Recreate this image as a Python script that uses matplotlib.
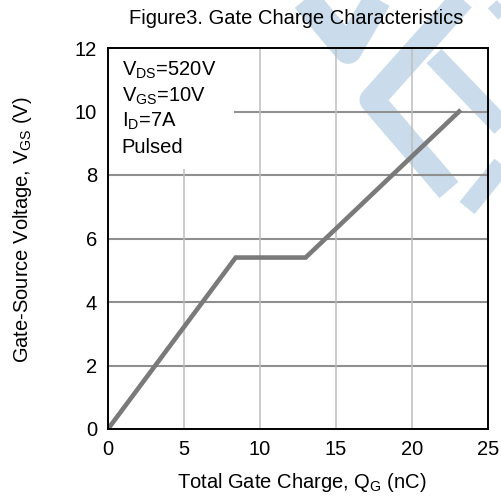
import matplotlib.pyplot as plt
from matplotlib.lines import Line2D
from matplotlib.patches import Rectangle

plt.rcParams["font.family"] = ["Liberation Sans", "DejaVu Sans"]
plt.rcParams["mathtext.fontset"] = "custom"
plt.rcParams["mathtext.rm"] = "Liberation Sans"
plt.rcParams["mathtext.it"] = "Liberation Sans"

# ---------- data ----------
qg_nc = [0.0, 8.4, 13.0, 23.1]
vgs_v = [0.0, 5.4, 5.4, 10.0]

x_ticks = [0, 5, 10, 15, 20, 25]
y_ticks = [0, 2, 4, 6, 8, 10, 12]
conditions = ["V$_{\\mathrm{DS}}$=520V", "V$_{\\mathrm{GS}}$=10V", "I$_{\\mathrm{D}}$=7A", "Pulsed"]

W, H = 502, 499
FS = 14.5
fig = plt.figure(figsize=(W / 100, H / 100), dpi=100)

# ---------- faint watermark logo in the top-right corner ----------
wm_color = "#cadcec"
strokes = [
    ([302, 348, 380], [-5, 50, -5], 20),
    ([466, 372, 449], [-5, 100, 190], 18),
    ([434, 512], [56, 137], 15),
    ([514, 467], [150, 208], 14),
    ([514, 493], [-5, 14], 11),
]
for xs, ys, lw in strokes:
    fig.add_artist(Line2D([x / W for x in xs], [1 - y / H for y in ys],
                          transform=fig.transFigure, color=wm_color, lw=lw,
                          solid_joinstyle="round", solid_capstyle="butt", zorder=-1))

ax = fig.add_axes([108 / W, 1 - 429 / H, 380 / W, 381 / H])
ax.set_facecolor("none")

ax.plot(qg_nc, vgs_v, color="#7a7a7a", lw=3.3, zorder=4, solid_joinstyle="miter")

ax.set_xlim(0, 25)
ax.set_ylim(0, 12)
ax.set_xticks(x_ticks)
ax.set_yticks(y_ticks)
for y in y_ticks[1:-1]:
    ax.axhline(y, color="#8f8f8f", lw=1.5, zorder=1)
for x in x_ticks[1:-1]:
    ax.axvline(x, color="#bdbdbd", lw=1.1, zorder=1)

# white box behind the test conditions hides the grid there
ax.add_patch(Rectangle((0, 8.2), 8.3, 3.8, facecolor="white", edgecolor="none", zorder=2))
for i, s in enumerate(conditions):
    ax.text(0.9, 11.3 - i * 0.81, s, fontsize=FS, va="center", ha="left", zorder=3)

for sp in ax.spines.values():
    sp.set_linewidth(1.4)
    sp.set_zorder(5)
ax.tick_params(length=0, labelsize=FS, pad=8)

ax.set_xlabel("Total Gate Charge, Q$_{\\mathrm{G}}$ (nC)", fontsize=FS, va="center")
ax.set_ylabel("Gate-Source Voltage, V$_{\\mathrm{GS}}$ (V)", fontsize=FS, va="center")
ax.xaxis.set_label_coords((302 - 108) / 380, (429 - 482) / 381)
ax.yaxis.set_label_coords((23 - 108) / 380, (429 - 230) / 381)
fig.text(296 / W, 1 - 18 / H, "Figure3. Gate Charge Characteristics",
         fontsize=FS, ha="center", va="center")

fig.savefig("out.png", dpi=100)
